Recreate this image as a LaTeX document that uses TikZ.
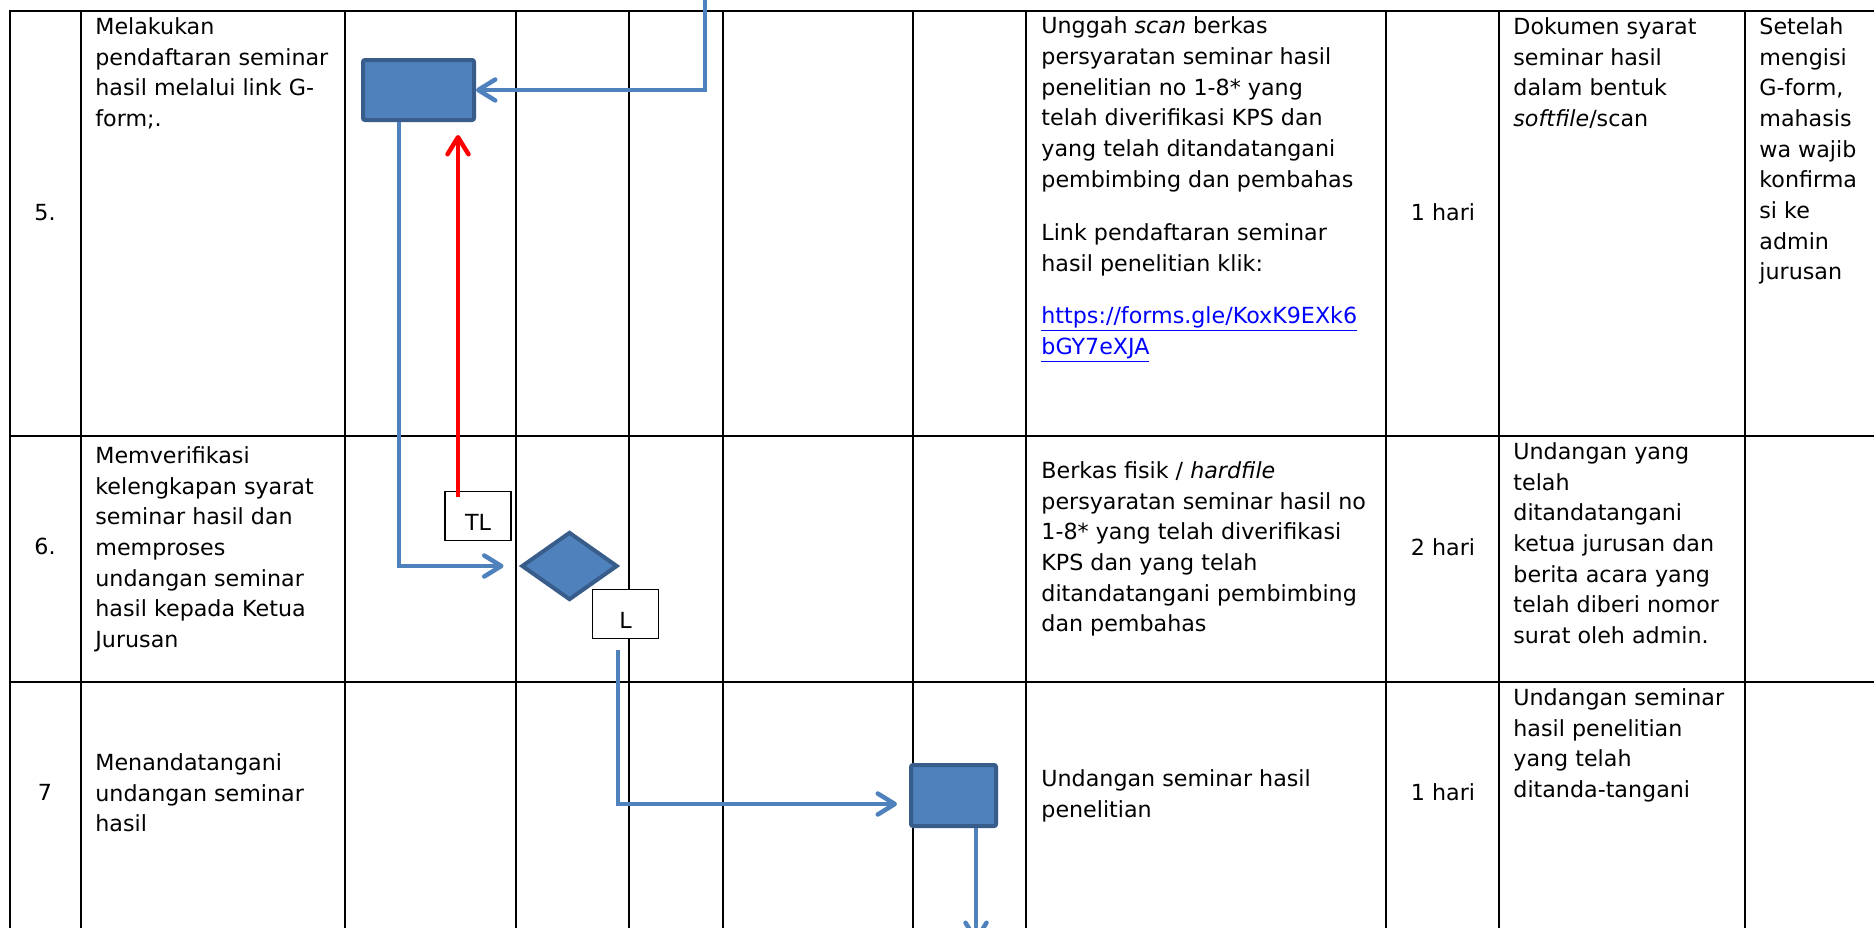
\documentclass[tikz,border=0pt]{standalone}
\usepackage{fontspec}
\setmainfont{DejaVu Sans}
\usetikzlibrary{arrows.meta,shapes.geometric}
\definecolor{obl}{HTML}{4F81BD}
\definecolor{obd}{HTML}{385D8A}
\definecolor{lnk}{HTML}{0000FF}
\begin{document}
\begin{tikzpicture}[x=0.5pt,y=-0.5pt,
  gridline/.style={line width=1.35pt,black,line cap=rect},
  ltxt/.style={anchor=north west,inner sep=0pt,align=left,font=\fontsize{11.1}{15.35}\selectfont},
  numtxt/.style={anchor=base,inner sep=0pt,font=\fontsize{11.1}{15.35}\selectfont},
  pbox/.style={draw=obd,fill=obl,line width=2pt,rounded corners=1pt,inner sep=0pt},
  lbl/.style={draw=black,fill=white,line width=0.6pt,inner sep=0pt,minimum width=33pt,minimum height=24.5pt,text height=14pt,text depth=0pt,font=\fontsize{11.1}{15}\selectfont},
  flow/.style={draw=obl,line width=2.25pt,-{Straight Barb[length=8.5pt,width=10.5pt,round]}},
  redflow/.style={draw=red,line width=2.25pt,-{Straight Barb[length=8.5pt,width=10.5pt,round]}}
]
\useasboundingbox[fill=white] (0,0) rectangle (1874,927);
% table grid
\foreach \x in {10,81,345,516,629,723,913,1026,1386,1499,1745}
  \draw[gridline] (\x,11) -- (\x,930);
\foreach \y in {11,436,682}
  \draw[gridline] (10,\y) -- (1880,\y);

% process shapes
\node[pbox,minimum width=55.5pt,minimum height=30pt] (b5) at (418.5,90) {};
\node[pbox,minimum width=42.5pt,minimum height=30.5pt] (b7) at (953.5,795.5) {};
\node[diamond,draw=obd,fill=obl,line width=2pt,inner sep=0pt,minimum width=48pt,minimum height=34pt] (dia) at (569.5,566) {};
\node[lbl] (tl) at (478,516) {TL};
\node[lbl] (lb) at (625.5,614) {L};

% connectors
\coordinate (topin) at (705,-4);
\coordinate (botout) at (976,942);
\draw[flow] (topin) |- (b5.east);
\coordinate (b5out) at ([xshift=-9.75pt]b5.south);
\draw[flow,shorten >=8pt] (b5out) |- (dia.west);
\coordinate (redstart) at ([xshift=-10pt]tl.north);
\draw[redflow,shorten <=-3pt,shorten >=6.5pt] (redstart) -- (redstart |- b5.south);
\coordinate (lstart) at ([xshift=-3.75pt,yshift=-5.5pt]lb.south);
\draw[flow,shorten >=6pt] (lstart) |- ([yshift=-4.25pt]b7.west);
\coordinate (b7out) at ([xshift=11.25pt]b7.south);
\draw[flow] (b7out) -- (b7out |- botout);

% numbers
\node[numtxt] (n5) at (45,220) {5.};
\node[numtxt] (n6) at (45,554) {6.};
\node[numtxt] (n7) at (45,800) {7};

% activity column
\node[ltxt] (a5) at (95,34-21.5) {\strut Melakukan\\pendaftaran seminar\\hasil melalui link G-\\form;.};
\node[ltxt] (a6) at (95,463-21.5) {\strut Memverifikasi\\kelengkapan syarat\\seminar hasil dan\\memproses\\undangan seminar\\hasil kepada Ketua\\Jurusan};
\node[ltxt] (a7) at (95,770-21.5) {\strut Menandatangani\\undangan seminar\\hasil};

% requirement column
\node[ltxt] (u5) at (1041,33.5-21.5) {\strut Unggah \textit{scan} berkas\\persyaratan seminar hasil\\penelitian no 1-8* yang\\telah diverifikasi KPS dan\\yang telah ditandatangani\\pembimbing dan pembahas};
\node[ltxt] (u5b) at (1041,240-21.5) {\strut Link pendaftaran seminar\\hasil penelitian klik:};
\node[ltxt] (u5c) at (1041,323-21.5) {\strut\textcolor{lnk}{\underline{https://forms.gle/KoxK9EXk6}}\\\textcolor{lnk}{\underline{bGY7eXJA}}};
\node[ltxt] (u6) at (1041,478-21.5) {\strut Berkas fisik / \textit{hardfile}\\persyaratan seminar hasil no\\1-8* yang telah diverifikasi\\KPS dan yang telah\\ditandatangani pembimbing\\dan pembahas};
\node[ltxt] (u7) at (1041,786-21.5) {\strut Undangan seminar hasil\\penelitian};

% time column
\node[numtxt] (h5) at (1443,220.7) {1 hari};
\node[numtxt] (h6) at (1443,555) {2 hari};
\node[numtxt] (h7) at (1443,800.7) {1 hari};

% output column
\node[ltxt] (d5) at (1513,34-21.5) {\strut Dokumen syarat\\seminar hasil\\dalam bentuk\\\textit{softfile}/scan};
\node[ltxt] (d6) at (1513,459-21.5) {\strut Undangan yang\\telah\\ditandatangani\\ketua jurusan dan\\berita acara yang\\telah diberi nomor\\surat oleh admin.};
\node[ltxt] (d7) at (1513,705-21.5) {\strut Undangan seminar\\hasil penelitian\\yang telah\\ditanda-tangani};

% notes column
\node[ltxt] (s5) at (1759,34-21.5) {\strut Setelah\\mengisi\\G-form,\\mahasis\\wa wajib\\konfirma\\si ke\\admin\\jurusan};
\end{tikzpicture}
\end{document}
